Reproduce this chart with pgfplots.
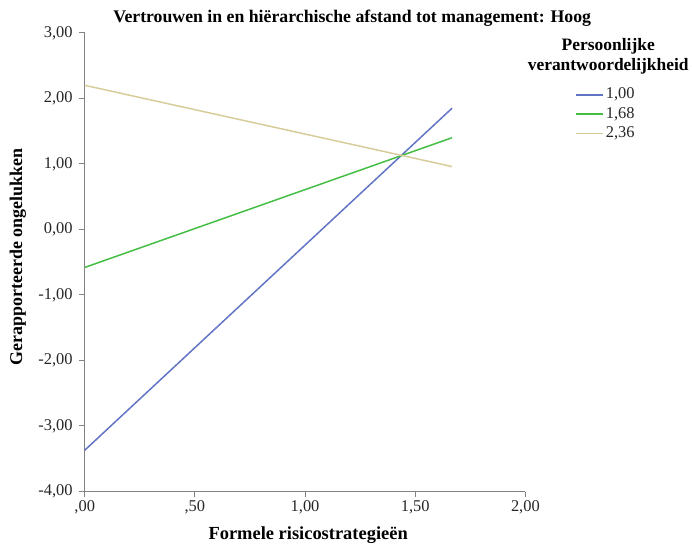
\documentclass[border=0pt]{standalone}
\usepackage{pgfplots}
\pgfplotsset{compat=1.18}
\usepackage{fontspec}
\setmainfont{Liberation Serif}
\definecolor{cblue}{RGB}{98,116,196}
\definecolor{cgreen}{RGB}{70,190,70}
\definecolor{ctan}{RGB}{215,205,155}
\definecolor{axgray}{RGB}{130,130,130}
\begin{document}
\begin{tikzpicture}
\begin{axis}[
  scale only axis, width=442pt, height=460pt,
  xmin=0, xmax=2, ymin=-4, ymax=3,
  axis lines*=left,
  axis line style={axgray, line width=1pt},
  xtick={0,0.5,1,1.5,2},
  xticklabels={{,00},{,50},{1,00},{1,50},{2,00}},
  ytick={-4,-3,-2,-1,0,1,2,3},
  yticklabels={{-4,00},{-3,00},{-2,00},{-1,00},{0,00},{1,00},{2,00},{3,00}},
  tick style={axgray, line width=1pt},
  tick align=outside, major tick length=6pt,
  tick label style={font=\fontsize{16.5}{18}\selectfont, text=black!85, inner sep=2pt},
  yticklabel style={xshift=-4pt},
  xticklabel style={yshift=-1pt},
  legend style={at={(axis description cs:1.113,0.885)}, anchor=north west, draw=none, fill=none,
    font=\fontsize{16.5}{18}\selectfont, row sep=1.5pt, inner sep=0pt,
    nodes={inner sep=2pt, text height=11pt, text depth=3pt, text=black!85}},
  legend cell align=left,
  legend image code/.code={\draw[line width=1.6pt] (0pt,0pt) -- (27pt,0pt);},
  clip=false,
]
\addplot[cblue, line width=1.5pt] coordinates {(0,-3.37) (1.667,1.85)};
\addlegendentry{1,00}
\addplot[cgreen, line width=1.5pt] coordinates {(0,-0.58) (1.667,1.40)};
\addlegendentry{1,68}
\addplot[ctan, line width=1.5pt] coordinates {(0,2.20) (1.667,0.96)};
\addlegendentry{2,36}
\node[font=\bfseries\fontsize{17.8}{20}\selectfont] at (axis description cs:0.607,1.033) {Vertrouwen in en hiërarchische afstand tot management: Hoog};
\node[font=\bfseries\fontsize{17.5}{20}\selectfont, align=center] at (axis description cs:1.188,0.948) {Persoonlijke\\verantwoordelijkheid};
\node[font=\bfseries\fontsize{18}{20}\selectfont, rotate=90] at (axis description cs:-0.152,0.512) {Gerapporteerde ongelukken};
\node[font=\bfseries\fontsize{18.5}{20}\selectfont] at (axis description cs:0.507,-0.096) {Formele risicostrategieën};
\end{axis}
\path[use as bounding box] (-85pt,-54pt) rectangle (607pt,493pt);
\end{tikzpicture}
\end{document}
